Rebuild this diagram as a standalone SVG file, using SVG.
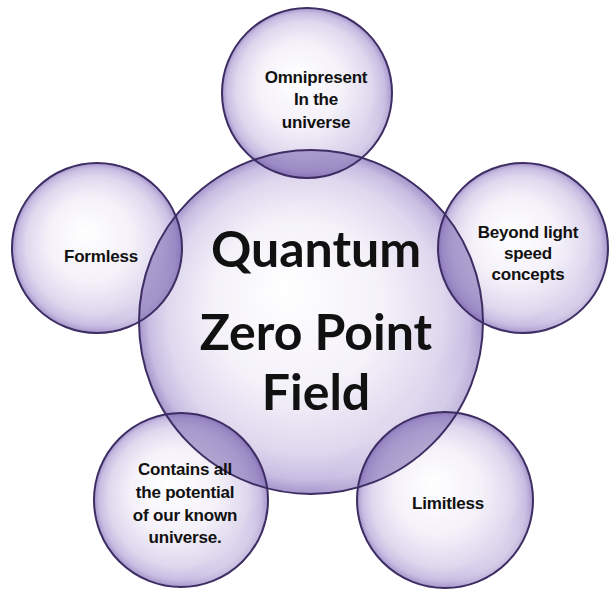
<svg xmlns="http://www.w3.org/2000/svg" width="610" height="590" viewBox="0 0 610 590">
  <defs>
    <radialGradient id="bubble" cx="50%" cy="50%" r="50%" fx="42%" fy="40%">
      <stop offset="0%" stop-color="#ffffff"/>
      <stop offset="50%" stop-color="#f4f1f9"/>
      <stop offset="80%" stop-color="#dfd8ee"/>
      <stop offset="93%" stop-color="#c8bde2"/>
      <stop offset="100%" stop-color="#a595cb"/>
    </radialGradient>
    <linearGradient id="shine" x1="0" y1="0" x2="1" y2="1">
      <stop offset="0%" stop-color="#ffffff" stop-opacity="0"/>
      <stop offset="75%" stop-color="#ffffff" stop-opacity="0"/>
      <stop offset="90%" stop-color="#ffffff" stop-opacity="0.55"/>
      <stop offset="100%" stop-color="#ffffff" stop-opacity="0"/>
    </linearGradient>
    <clipPath id="clipCenter">
      <circle cx="311" cy="322" r="172"/>
    </clipPath>
  </defs>
  <style>
    .fill { fill: url(#bubble); }
    .shine { fill: url(#shine); }
    .edge { fill: none; stroke: #3e2d63; stroke-width: 2; }
    .lens { fill: #6a54a6; fill-opacity: 0.48; }
    .big { font-family: Lato, "Open Sans", "Liberation Sans", sans-serif; font-weight: bold; font-size: 50px; fill: #111; text-anchor: middle; }
    .small { font-family: "Liberation Sans", Arial, sans-serif; font-weight: bold; font-size: 17px; fill: #111; text-anchor: middle; letter-spacing: -0.2px; }
  </style>

  <!-- fills -->
  <g id="center">
    <circle class="fill" cx="311" cy="322" r="172"/>
    <circle class="shine" cx="311" cy="322" r="172"/>
  </g>
  <g id="node-top">
    <circle class="fill" cx="307" cy="93" r="85"/>
    <circle class="shine" cx="307" cy="93" r="85"/>
  </g>
  <g id="node-left">
    <circle class="fill" cx="97" cy="248" r="85"/>
    <circle class="shine" cx="97" cy="248" r="85"/>
  </g>
  <g id="node-right">
    <circle class="fill" cx="523" cy="248" r="85"/>
    <circle class="shine" cx="523" cy="248" r="85"/>
  </g>
  <g id="node-bottom-left">
    <circle class="fill" cx="181" cy="500" r="87"/>
    <circle class="shine" cx="181" cy="500" r="87"/>
  </g>
  <g id="node-bottom-right">
    <circle class="fill" cx="445" cy="500" r="88"/>
    <circle class="shine" cx="445" cy="500" r="88"/>
  </g>

  <!-- overlaps -->
  <g id="overlaps" clip-path="url(#clipCenter)">
    <circle class="lens" cx="307" cy="93" r="85"/>
    <circle class="lens" cx="97" cy="248" r="85"/>
    <circle class="lens" cx="523" cy="248" r="85"/>
    <circle class="lens" cx="181" cy="500" r="87"/>
    <circle class="lens" cx="445" cy="500" r="88"/>
  </g>

  <!-- outlines -->
  <g id="outlines">
    <circle class="edge" cx="311" cy="322" r="172"/>
    <circle class="edge" cx="307" cy="93" r="85"/>
    <circle class="edge" cx="97" cy="248" r="85"/>
    <circle class="edge" cx="523" cy="248" r="85"/>
    <circle class="edge" cx="181" cy="500" r="87"/>
    <circle class="edge" cx="445" cy="500" r="88"/>
  </g>

  <!-- labels -->
  <g id="labels">
    <text class="big" x="316" y="267">Quantum</text>
    <text class="big" x="316" y="350">Zero Point</text>
    <text class="big" x="316" y="410">Field</text>

    <text class="small" x="316" y="83">Omnipresent</text>
    <text class="small" x="316" y="105">In the</text>
    <text class="small" x="316" y="128">universe</text>

    <text class="small" x="101" y="262">Formless</text>

    <text class="small" x="528" y="238">Beyond light</text>
    <text class="small" x="528" y="259">speed</text>
    <text class="small" x="528" y="280">concepts</text>

    <text class="small" x="185" y="475">Contains all</text>
    <text class="small" x="185" y="498">the potential</text>
    <text class="small" x="185" y="521">of our known</text>
    <text class="small" x="185" y="543">universe.</text>

    <text class="small" x="448" y="509">Limitless</text>
  </g>
</svg>
